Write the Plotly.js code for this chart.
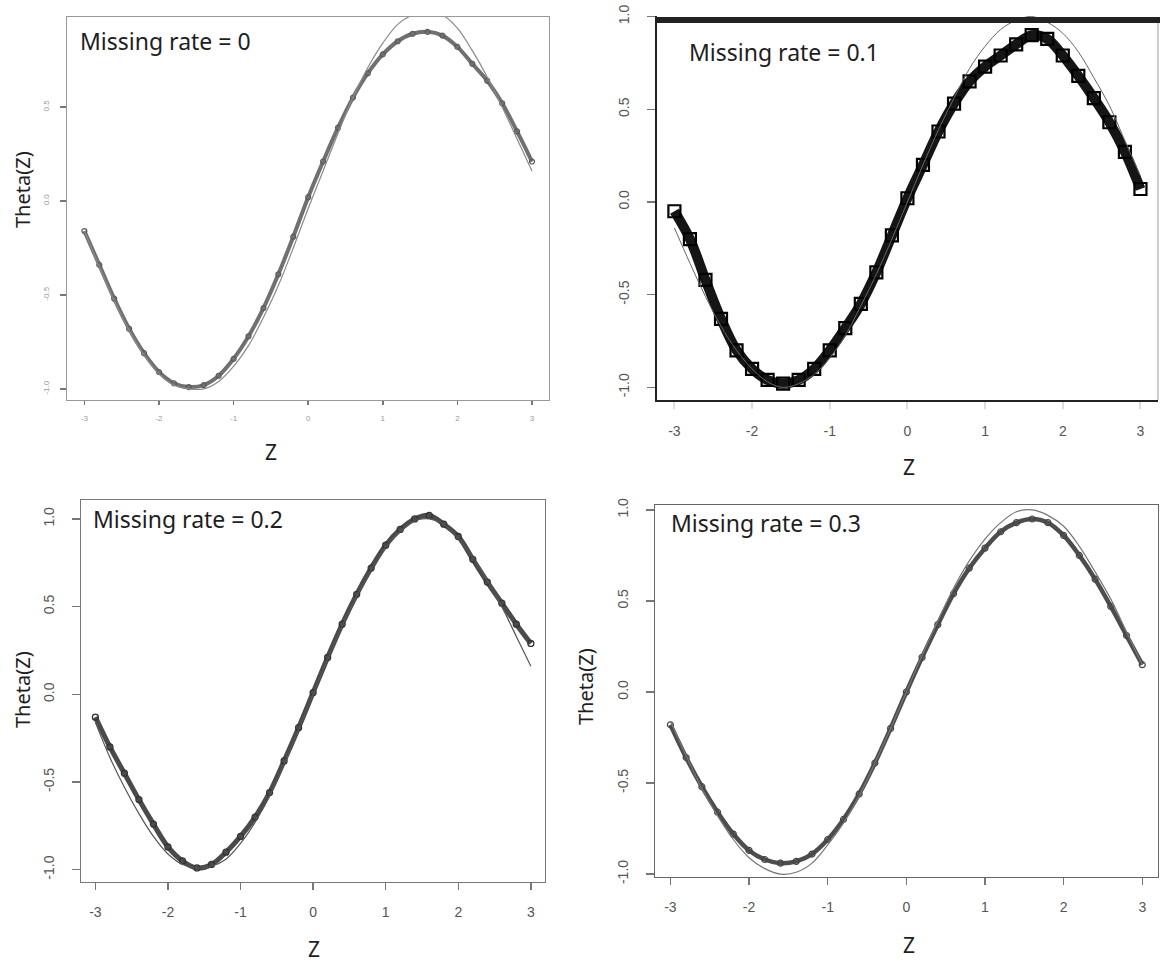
<!DOCTYPE html>
<html>
<head>
<meta charset="utf-8">
<script src="https://cdn.plot.ly/plotly-3.0.1.min.js"></script>
<style>html,body{margin:0;padding:0;background:#fff}#chart{width:1160px;height:967px}</style>
</head>
<body>
<div id="chart"></div>
<script>
// ---- data ----
const zGrid = [-3.0,-2.8,-2.6,-2.4,-2.2,-2.0,-1.8,-1.6,-1.4,-1.2,-1.0,-0.8,-0.6,-0.4,-0.2,0.0,0.2,0.4,0.6,0.8,1.0,1.2,1.4,1.6,1.8,2.0,2.2,2.4,2.6,2.8,3.0];

// Missing rate = 0
const est0  = [-0.16,-0.34,-0.52,-0.68,-0.81,-0.91,-0.97,-0.99,-0.98,-0.93,-0.84,-0.72,-0.57,-0.39,-0.19,0.02,0.21,0.39,0.55,0.68,0.78,0.85,0.89,0.90,0.88,0.82,0.73,0.64,0.52,0.37,0.21];
const true0 = [-0.16,-0.35,-0.53,-0.69,-0.82,-0.92,-0.98,-1.00,-1.00,-0.96,-0.88,-0.77,-0.62,-0.45,-0.25,-0.04,0.16,0.36,0.55,0.71,0.84,0.94,0.99,1.01,0.99,0.92,0.80,0.66,0.50,0.33,0.16];

// Missing rate = 0.1
const est1  = [-0.05,-0.20,-0.42,-0.63,-0.80,-0.90,-0.96,-0.98,-0.96,-0.90,-0.80,-0.68,-0.55,-0.38,-0.18,0.02,0.20,0.38,0.53,0.65,0.73,0.79,0.85,0.90,0.88,0.79,0.68,0.56,0.43,0.27,0.07];
const true1 = [-0.14,-0.33,-0.51,-0.67,-0.80,-0.90,-0.97,-1.00,-0.98,-0.93,-0.84,-0.72,-0.56,-0.39,-0.20,0.00,0.20,0.39,0.56,0.72,0.84,0.93,0.98,1.00,0.97,0.91,0.81,0.67,0.52,0.33,0.14];

// Missing rate = 0.2
const est2  = [-0.13,-0.30,-0.45,-0.60,-0.74,-0.87,-0.95,-0.99,-0.97,-0.90,-0.81,-0.70,-0.56,-0.38,-0.19,0.01,0.21,0.40,0.57,0.72,0.85,0.94,1.00,1.02,0.97,0.90,0.77,0.64,0.52,0.40,0.29];
const true2 = [-0.16,-0.36,-0.53,-0.68,-0.81,-0.91,-0.97,-0.99,-0.98,-0.94,-0.85,-0.73,-0.58,-0.40,-0.20,0.00,0.20,0.39,0.56,0.71,0.84,0.93,0.99,1.00,0.97,0.89,0.78,0.65,0.50,0.33,0.16];

// Missing rate = 0.3
const est3  = [-0.18,-0.36,-0.52,-0.66,-0.78,-0.87,-0.92,-0.94,-0.93,-0.89,-0.81,-0.70,-0.56,-0.39,-0.20,0.00,0.19,0.37,0.54,0.68,0.79,0.88,0.93,0.95,0.93,0.86,0.75,0.62,0.47,0.31,0.15];
const true3 = [-0.16,-0.35,-0.53,-0.68,-0.81,-0.91,-0.97,-1.00,-0.99,-0.94,-0.84,-0.72,-0.57,-0.39,-0.20,0.00,0.20,0.39,0.57,0.72,0.84,0.93,0.99,1.00,0.97,0.91,0.80,0.66,0.51,0.33,0.15];

const xTicks = [-3,-2,-1,0,1,2,3];
const xTickText = ['-3','-2','-1','0','1','2','3'];
const yTicks = [-1,-0.5,0,0.5,1];
const yTickText = ['-1.0','-0.5','0.0','0.5','1.0'];
const panelLabels = ['Missing rate = 0','Missing rate = 0.1','Missing rate = 0.2','Missing rate = 0.3'];
const xTitle = 'Z';
const yTitle = 'Theta(Z)';

// ---- layout helpers (pixel geometry) ----
const W = 1160, H = 967;
const px = v => v / W;
const py = v => 1 - v / H;

const panels = [
  {x0:67,  x1:549,  y0:17,  y1:400, xr:[-3.233,3.228], yr:[-1.059,0.979]},
  {x0:657, x1:1158, y0:16,  y1:400, xr:[-3.224,3.226], yr:[-1.068,1.003]},
  {x0:81,  x1:545,  y0:500, y1:882, xr:[-3.198,3.195], yr:[-1.070,1.108]},
  {x0:655, x1:1158, y0:505, y1:877, xr:[-3.196,3.200], yr:[-1.016,1.027]}
];

const estStyles = [
  {lw:4,   lc:'#707070', sym:'circle-open', ms:5, mc:'#5a5a5a', mlw:1.2},
  {lw:10,  lc:'#151515', sym:'square-open', ms:12, mc:'#000', mlw:2.2},
  {lw:5,   lc:'#4a4a4a', sym:'circle-open', ms:6, mc:'#333', mlw:1.3},
  {lw:4.5, lc:'#4d4d4d', sym:'circle-open', ms:6, mc:'#444', mlw:1.2}
];
const trueStyles = [
  {c:'#8a8a8a', w:1.2},
  {c:'#666', w:1},
  {c:'#555', w:1.2},
  {c:'#777', w:1.2}
];

const ests = [est0, est1, est2, est3];
const trues = [true0, true1, true2, true3];

const data = [];
for (let i = 0; i < 4; i++) {
  const xa = i === 0 ? 'x' : 'x' + (i + 1);
  const ya = i === 0 ? 'y' : 'y' + (i + 1);
  const s = estStyles[i];
  data.push({
    x: zGrid, y: ests[i], xaxis: xa, yaxis: ya, type: 'scatter', mode: 'lines+markers',
    line: {color: s.lc, width: s.lw, shape: 'spline'},
    marker: {symbol: s.sym, size: s.ms, color: s.mc, line: {width: s.mlw, color: s.mc}},
    hoverinfo: 'skip'
  });
  const t = trueStyles[i];
  data.push({
    x: zGrid, y: trues[i], xaxis: xa, yaxis: ya, type: 'scatter', mode: 'lines',
    line: {color: t.c, width: t.w, shape: 'spline'}, hoverinfo: 'skip'
  });
}

const layout = {
  width: W, height: H, margin: {l:0, r:0, t:0, b:0},
  paper_bgcolor: '#fff', plot_bgcolor: '#fff', showlegend: false,
  font: {family: 'Liberation Sans, Arial, sans-serif', color: '#444'},
  annotations: [], shapes: []
};

const tickFonts = [
  {size: 8, color: '#999'},
  {size: 14, color: '#555'},
  {size: 14, color: '#555'},
  {size: 14, color: '#555'}
];
const lineCols = ['#999', '#222', '#777', '#666'];

panels.forEach((p, i) => {
  const xk = i === 0 ? 'xaxis' : 'xaxis' + (i + 1);
  const yk = i === 0 ? 'yaxis' : 'yaxis' + (i + 1);
  const ya = i === 0 ? 'y' : 'y' + (i + 1);
  const xa = i === 0 ? 'x' : 'x' + (i + 1);
  const mir = i !== 1;
  layout[xk] = {
    domain: [px(p.x0), px(p.x1)], range: p.xr, anchor: ya,
    showgrid: false, zeroline: false, showline: true, mirror: mir,
    linecolor: lineCols[i], linewidth: i === 1 ? 2 : 1.3,
    ticks: 'outside', ticklen: i === 0 ? 4 : 7, tickwidth: i === 1 ? 2 : 1.5,
    tickcolor: i === 1 ? '#ddd' : '#777',
    tickvals: xTicks, ticktext: xTickText, tickfont: tickFonts[i],
    ticklabelstandoff: i === 0 ? 6 : 10
  };
  layout[yk] = {
    domain: [py(p.y1), py(p.y0)], range: p.yr, anchor: xa,
    showgrid: false, zeroline: false, showline: true, mirror: mir,
    linecolor: lineCols[i], linewidth: i === 1 ? 2 : 1.3,
    ticks: 'outside', ticklen: i === 0 ? 6 : 8, tickwidth: 1.5,
    tickcolor: '#777',
    tickvals: yTicks, ticktext: yTickText, tickfont: tickFonts[i],
    tickangle: -90, ticklabelstandoff: i === 0 ? 8 : 12
  };
});

// panel 2 frame details: heavy top rule, faint right edge
layout.shapes.push({type:'line', xref:'paper', yref:'paper', x0:px(657), x1:px(1160), y0:py(20), y1:py(20), line:{color:'#222', width:6}});
layout.shapes.push({type:'line', xref:'paper', yref:'paper', x0:px(1158), x1:px(1158), y0:py(23), y1:py(400), line:{color:'#ccc', width:2}});

// panel labels
const labPos = [[78,41],[687,52],[91,519],[669,523]];
panelLabels.forEach((t, i) => {
  layout.annotations.push({
    text: t, xref:'paper', yref:'paper', x: px(labPos[i][0]), y: py(labPos[i][1]),
    xanchor:'left', yanchor:'middle', showarrow:false,
    font:{family:'Noto Sans, Open Sans, sans-serif', size:23, color:'#1e1e1e'}
  });
});

// axis titles
const xtPos = [[271,452],[909,467],[314,949],[909,945]];
xtPos.forEach(p => layout.annotations.push({
  text: xTitle, xref:'paper', yref:'paper', x: px(p[0]), y: py(p[1]),
  xanchor:'center', yanchor:'middle', showarrow:false,
  font:{family:'Noto Sans, Open Sans, sans-serif', size:21, color:'#1e1e1e'}
}));
const ytPos = [[22,190],[22,690],[585,687]];
ytPos.forEach(p => layout.annotations.push({
  text: yTitle, xref:'paper', yref:'paper', x: px(p[0]), y: py(p[1]),
  xanchor:'center', yanchor:'middle', showarrow:false, textangle:-90,
  font:{family:'Noto Sans, Open Sans, sans-serif', size:20, color:'#1e1e1e'}
}));

Plotly.newPlot('chart', data, layout, {staticPlot: true});
</script>
</body>
</html>
